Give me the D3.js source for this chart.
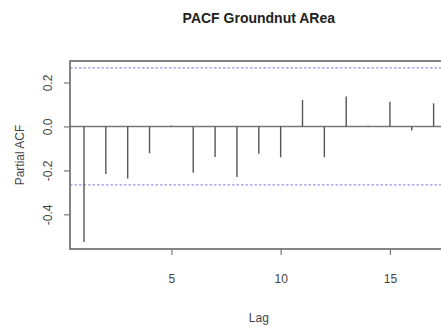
<!DOCTYPE html>
<html><head><meta charset="utf-8">
<script src="https://cdn.jsdelivr.net/npm/d3@7"></script>
<style>body{margin:0;background:#fff}svg{display:block}text{font-family:"Liberation Sans",Arial,sans-serif}</style>
</head><body>
<svg id="c" width="441" height="333"></svg>
<script>
const lags = [1,2,3,4,5,6,7,8,9,10,11,12,13,14,15,16,17];
const pacf = [-0.526,-0.217,-0.237,-0.122,0.004,-0.211,-0.139,-0.230,-0.124,-0.140,0.120,-0.140,0.136,0.003,0.112,-0.018,0.105];
const clim = 0.266;
const xTicks = [5,10,15];
const yTicks = [0.2,0.0,-0.2,-0.4];
const yTickLabels = ["0.2","0.0","-0.2","-0.4"];
const title = "PACF Groundnut ARea";
const xLabel = "Lag", yLabel = "Partial ACF";

const svg = d3.select("#c");
const L = 70, R = 447.6, T = 61, B = 249;
const xr = [d3.min(lags), d3.max(lags)], xe = (xr[1]-xr[0])*0.04;
const yr = [Math.min(d3.min(pacf), -clim), Math.max(d3.max(pacf), clim)], ye = (yr[1]-yr[0])*0.04;
const x = d3.scaleLinear().domain([xr[0]-xe, xr[1]+xe]).range([L, R]);
const y = d3.scaleLinear().domain([yr[0]-ye, yr[1]+ye]).range([B, T]);
const ink = "#444";

// confidence lines
[clim, -clim].forEach(v => {
  svg.append("line").attr("x1", L).attr("x2", R).attr("y1", y(v)).attr("y2", y(v))
    .attr("stroke", "#7a7ae8").attr("stroke-width", 1.3).attr("stroke-dasharray", "2.5,2").attr("opacity", 0.8);
});
// zero line
svg.append("line").attr("x1", L).attr("x2", R).attr("y1", y(0)).attr("y2", y(0))
  .attr("stroke", "#777").attr("stroke-width", 1.4);
// spikes
svg.selectAll("line.sp").data(lags).enter().append("line").attr("class","sp")
  .attr("x1", d => x(d)).attr("x2", d => x(d))
  .attr("y1", y(0)).attr("y2", (d,i) => y(pacf[i]))
  .attr("stroke", "#555").attr("stroke-width", 1.4);
// box
svg.append("rect").attr("x", L).attr("y", T).attr("width", R-L).attr("height", B-T)
  .attr("fill", "none").attr("stroke", "#666").attr("stroke-width", 1.6);

// x axis
const xa = svg.append("g").attr("transform", `translate(0,${B})`)
  .call(d3.axisBottom(x).tickValues(xTicks).tickSize(6).tickSizeOuter(0).tickFormat(d3.format("d")));
xa.select(".domain").remove();
xa.selectAll("line").attr("stroke", "#777").attr("stroke-width", 1.2);
xa.selectAll("text").attr("font-size", 12).attr("fill", ink).attr("dy", null).attr("y", 34);

// y axis
const ya = svg.append("g").attr("transform", `translate(${L},0)`)
  .call(d3.axisLeft(y).tickValues(yTicks).tickSize(6).tickSizeOuter(0).tickFormat((d,i) => yTickLabels[i]));
ya.select(".domain").remove();
ya.selectAll("line").attr("stroke", "#777").attr("stroke-width", 1.2);
ya.selectAll("text").attr("font-size", 12).attr("fill", ink)
  .attr("x", null).attr("dy", null).attr("text-anchor", "middle")
  .attr("transform", "translate(-22,0) rotate(-90)").attr("y", 0).attr("dominant-baseline", "central");

// title
svg.append("text").attr("x", (L+R)/2).attr("y", 23).attr("text-anchor", "middle")
  .attr("font-size", 14).attr("font-weight", "bold").attr("fill", "#222").text(title);
// x label
svg.append("text").attr("x", (L+R)/2).attr("y", 322).attr("text-anchor", "middle")
  .attr("font-size", 12).attr("fill", ink).text(xLabel);
// y label
svg.append("text").attr("transform", `translate(20,${(T+B)/2}) rotate(-90)`).attr("text-anchor", "middle")
  .attr("dominant-baseline", "central").attr("font-size", 12).attr("fill", ink).text(yLabel);
</script>
</body></html>
